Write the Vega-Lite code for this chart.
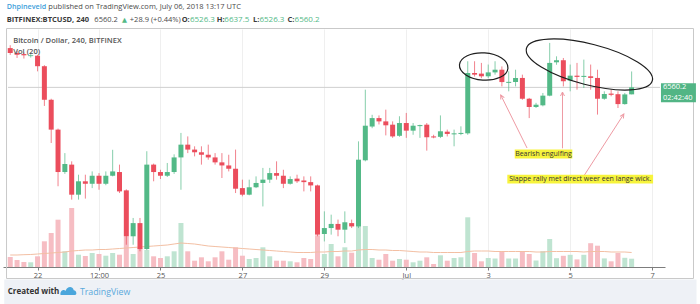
{
"$schema": "https://vega.github.io/schema/vega-lite/v6.json",
"width": 662, "height": 238,
"autosize": {"type": "none"},
"padding": {"left": 3, "top": 29, "right": 35, "bottom": 37},
"background": "#ffffff",
"config": {"view": {"stroke": null}, "font": "Open Sans"},
"datasets": {
"candles": [
{"t":"2018-06-21T08:00:00Z","o":6751,"h":6765,"l":6718,"c":6727,"v":1000,"ma":1200,"d":"down"},
{"t":"2018-06-21T12:00:00Z","o":6727,"h":6738,"l":6703,"c":6719,"v":700,"ma":1200,"d":"down"},
{"t":"2018-06-21T16:00:00Z","o":6722,"h":6730,"l":6700,"c":6716,"v":500,"ma":1230,"d":"down"},
{"t":"2018-06-21T20:00:00Z","o":6712,"h":6722,"l":6705,"c":6716,"v":470,"ma":1250,"d":"up"},
{"t":"2018-06-22T00:00:00Z","o":6714,"h":6718,"l":6638,"c":6663,"v":1070,"ma":1300,"d":"down"},
{"t":"2018-06-22T04:00:00Z","o":6663,"h":6668,"l":6470,"c":6500,"v":2570,"ma":1350,"d":"down"},
{"t":"2018-06-22T08:00:00Z","o":6500,"h":6505,"l":6290,"c":6355,"v":3400,"ma":1400,"d":"down"},
{"t":"2018-06-22T12:00:00Z","o":6355,"h":6360,"l":6080,"c":6149,"v":4730,"ma":1450,"d":"down"},
{"t":"2018-06-22T16:00:00Z","o":6149,"h":6241,"l":6140,"c":6188,"v":1570,"ma":1500,"d":"up"},
{"t":"2018-06-22T20:00:00Z","o":6185,"h":6201,"l":6015,"c":6039,"v":5900,"ma":1600,"d":"down"},
{"t":"2018-06-23T00:00:00Z","o":6039,"h":6136,"l":6015,"c":6104,"v":1230,"ma":1650,"d":"up"},
{"t":"2018-06-23T04:00:00Z","o":6104,"h":6136,"l":6020,"c":6092,"v":1100,"ma":1700,"d":"down"},
{"t":"2018-06-23T08:00:00Z","o":6092,"h":6152,"l":6071,"c":6131,"v":1400,"ma":1700,"d":"up"},
{"t":"2018-06-23T12:00:00Z","o":6131,"h":6144,"l":6063,"c":6092,"v":1300,"ma":1750,"d":"down"},
{"t":"2018-06-23T16:00:00Z","o":6092,"h":6152,"l":6085,"c":6131,"v":1130,"ma":1750,"d":"up"},
{"t":"2018-06-23T20:00:00Z","o":6131,"h":6257,"l":6128,"c":6152,"v":1400,"ma":1800,"d":"up"},
{"t":"2018-06-24T00:00:00Z","o":6149,"h":6185,"l":6047,"c":6055,"v":1230,"ma":1850,"d":"down"},
{"t":"2018-06-24T04:00:00Z","o":6060,"h":6065,"l":5796,"c":5837,"v":3070,"ma":1900,"d":"down"},
{"t":"2018-06-24T08:00:00Z","o":5837,"h":5926,"l":5796,"c":5901,"v":1300,"ma":1950,"d":"up"},
{"t":"2018-06-24T12:00:00Z","o":5901,"h":5926,"l":5764,"c":5775,"v":1900,"ma":2000,"d":"down"},
{"t":"2018-06-24T16:00:00Z","o":5775,"h":6250,"l":5770,"c":6185,"v":1700,"ma":2050,"d":"up"},
{"t":"2018-06-24T20:00:00Z","o":6185,"h":6190,"l":6104,"c":6149,"v":1070,"ma":2100,"d":"down"},
{"t":"2018-06-25T00:00:00Z","o":6149,"h":6160,"l":6115,"c":6131,"v":900,"ma":2150,"d":"down"},
{"t":"2018-06-25T04:00:00Z","o":6131,"h":6193,"l":6125,"c":6149,"v":1070,"ma":2200,"d":"up"},
{"t":"2018-06-25T08:00:00Z","o":6149,"h":6235,"l":6140,"c":6220,"v":1570,"ma":2300,"d":"up"},
{"t":"2018-06-25T12:00:00Z","o":6220,"h":6339,"l":6063,"c":6282,"v":4400,"ma":2400,"d":"up"},
{"t":"2018-06-25T16:00:00Z","o":6282,"h":6322,"l":6241,"c":6258,"v":1570,"ma":2350,"d":"down"},
{"t":"2018-06-25T20:00:00Z","o":6258,"h":6274,"l":6225,"c":6245,"v":630,"ma":2300,"d":"down"},
{"t":"2018-06-26T00:00:00Z","o":6245,"h":6274,"l":6185,"c":6233,"v":970,"ma":2200,"d":"down"},
{"t":"2018-06-26T04:00:00Z","o":6233,"h":6282,"l":6209,"c":6220,"v":570,"ma":2100,"d":"down"},
{"t":"2018-06-26T08:00:00Z","o":6220,"h":6241,"l":6185,"c":6196,"v":970,"ma":2050,"d":"down"},
{"t":"2018-06-26T12:00:00Z","o":6196,"h":6241,"l":6120,"c":6181,"v":1570,"ma":2000,"d":"down"},
{"t":"2018-06-26T16:00:00Z","o":6181,"h":6233,"l":6152,"c":6165,"v":730,"ma":1950,"d":"down"},
{"t":"2018-06-26T20:00:00Z","o":6165,"h":6258,"l":6047,"c":6068,"v":1970,"ma":1900,"d":"down"},
{"t":"2018-06-27T00:00:00Z","o":6071,"h":6112,"l":6031,"c":6039,"v":1130,"ma":1850,"d":"down"},
{"t":"2018-06-27T04:00:00Z","o":6039,"h":6112,"l":6036,"c":6075,"v":800,"ma":1800,"d":"up"},
{"t":"2018-06-27T08:00:00Z","o":6075,"h":6128,"l":6071,"c":6096,"v":900,"ma":1750,"d":"up"},
{"t":"2018-06-27T12:00:00Z","o":6096,"h":6169,"l":5982,"c":6112,"v":1970,"ma":1700,"d":"up"},
{"t":"2018-06-27T16:00:00Z","o":6112,"h":6169,"l":6096,"c":6144,"v":1070,"ma":1650,"d":"up"},
{"t":"2018-06-27T20:00:00Z","o":6144,"h":6201,"l":6112,"c":6131,"v":630,"ma":1600,"d":"down"},
{"t":"2018-06-28T00:00:00Z","o":6131,"h":6160,"l":6071,"c":6092,"v":630,"ma":1550,"d":"down"},
{"t":"2018-06-28T04:00:00Z","o":6092,"h":6128,"l":6088,"c":6115,"v":570,"ma":1500,"d":"up"},
{"t":"2018-06-28T08:00:00Z","o":6117,"h":6136,"l":6096,"c":6104,"v":470,"ma":1450,"d":"down"},
{"t":"2018-06-28T12:00:00Z","o":6108,"h":6128,"l":6055,"c":6100,"v":900,"ma":1450,"d":"down"},
{"t":"2018-06-28T16:00:00Z","o":6100,"h":6128,"l":6055,"c":6084,"v":800,"ma":1450,"d":"down"},
{"t":"2018-06-28T20:00:00Z","o":6084,"h":6088,"l":5837,"c":5845,"v":3170,"ma":1500,"d":"down"},
{"t":"2018-06-29T00:00:00Z","o":5848,"h":5958,"l":5812,"c":5877,"v":1300,"ma":1500,"d":"up"},
{"t":"2018-06-29T04:00:00Z","o":5877,"h":5942,"l":5845,"c":5897,"v":2300,"ma":1550,"d":"up"},
{"t":"2018-06-29T08:00:00Z","o":5897,"h":5918,"l":5837,"c":5869,"v":1070,"ma":1550,"d":"down"},
{"t":"2018-06-29T12:00:00Z","o":5869,"h":5958,"l":5804,"c":5905,"v":1970,"ma":1600,"d":"up"},
{"t":"2018-06-29T16:00:00Z","o":5901,"h":5918,"l":5877,"c":5885,"v":1430,"ma":1600,"d":"down"},
{"t":"2018-06-29T20:00:00Z","o":5885,"h":6298,"l":5877,"c":6209,"v":4100,"ma":1700,"d":"up"},
{"t":"2018-06-30T00:00:00Z","o":6206,"h":6549,"l":6201,"c":6374,"v":4100,"ma":1750,"d":"up"},
{"t":"2018-06-30T04:00:00Z","o":6370,"h":6427,"l":6362,"c":6411,"v":900,"ma":1750,"d":"up"},
{"t":"2018-06-30T08:00:00Z","o":6411,"h":6424,"l":6380,"c":6395,"v":730,"ma":1700,"d":"down"},
{"t":"2018-06-30T12:00:00Z","o":6395,"h":6452,"l":6327,"c":6376,"v":1300,"ma":1700,"d":"down"},
{"t":"2018-06-30T16:00:00Z","o":6379,"h":6395,"l":6315,"c":6322,"v":630,"ma":1650,"d":"down"},
{"t":"2018-06-30T20:00:00Z","o":6325,"h":6420,"l":6320,"c":6387,"v":800,"ma":1650,"d":"up"},
{"t":"2018-07-01T00:00:00Z","o":6387,"h":6436,"l":6315,"c":6350,"v":730,"ma":1600,"d":"down"},
{"t":"2018-07-01T04:00:00Z","o":6350,"h":6387,"l":6330,"c":6374,"v":470,"ma":1550,"d":"up"},
{"t":"2018-07-01T08:00:00Z","o":6372,"h":6379,"l":6315,"c":6377,"v":630,"ma":1500,"d":"up"},
{"t":"2018-07-01T12:00:00Z","o":6379,"h":6387,"l":6253,"c":6318,"v":970,"ma":1500,"d":"down"},
{"t":"2018-07-01T16:00:00Z","o":6322,"h":6330,"l":6313,"c":6317,"v":300,"ma":1450,"d":"down"},
{"t":"2018-07-01T20:00:00Z","o":6320,"h":6424,"l":6314,"c":6347,"v":1170,"ma":1450,"d":"up"},
{"t":"2018-07-02T00:00:00Z","o":6345,"h":6355,"l":6322,"c":6334,"v":630,"ma":1450,"d":"down"},
{"t":"2018-07-02T04:00:00Z","o":6332,"h":6355,"l":6274,"c":6337,"v":900,"ma":1450,"d":"up"},
{"t":"2018-07-02T08:00:00Z","o":6334,"h":6371,"l":6328,"c":6339,"v":970,"ma":1450,"d":"up"},
{"t":"2018-07-02T12:00:00Z","o":6337,"h":6687,"l":6330,"c":6630,"v":4970,"ma":1550,"d":"up"},
{"t":"2018-07-02T16:00:00Z","o":6630,"h":6687,"l":6613,"c":6622,"v":1400,"ma":1600,"d":"down"},
{"t":"2018-07-02T20:00:00Z","o":6627,"h":6679,"l":6605,"c":6614,"v":570,"ma":1600,"d":"down"},
{"t":"2018-07-03T00:00:00Z","o":6614,"h":6671,"l":6605,"c":6633,"v":900,"ma":1600,"d":"up"},
{"t":"2018-07-03T04:00:00Z","o":6633,"h":6687,"l":6622,"c":6646,"v":850,"ma":1550,"d":"up"},
{"t":"2018-07-03T08:00:00Z","o":6646,"h":6662,"l":6565,"c":6586,"v":1550,"ma":1550,"d":"down"},
{"t":"2018-07-03T12:00:00Z","o":6582,"h":6638,"l":6541,"c":6587,"v":850,"ma":1550,"d":"up"},
{"t":"2018-07-03T16:00:00Z","o":6586,"h":6646,"l":6565,"c":6606,"v":850,"ma":1550,"d":"up"},
{"t":"2018-07-03T20:00:00Z","o":6606,"h":6622,"l":6500,"c":6505,"v":1600,"ma":1550,"d":"down"},
{"t":"2018-07-04T00:00:00Z","o":6505,"h":6509,"l":6411,"c":6465,"v":1300,"ma":1550,"d":"down"},
{"t":"2018-07-04T04:00:00Z","o":6465,"h":6485,"l":6460,"c":6476,"v":650,"ma":1500,"d":"up"},
{"t":"2018-07-04T08:00:00Z","o":6473,"h":6533,"l":6468,"c":6520,"v":1580,"ma":1500,"d":"up"},
{"t":"2018-07-04T12:00:00Z","o":6520,"h":6776,"l":6517,"c":6679,"v":2800,"ma":1550,"d":"up"},
{"t":"2018-07-04T16:00:00Z","o":6682,"h":6711,"l":6670,"c":6692,"v":880,"ma":1550,"d":"up"},
{"t":"2018-07-04T20:00:00Z","o":6692,"h":6703,"l":6565,"c":6590,"v":1120,"ma":1550,"d":"down"},
{"t":"2018-07-05T00:00:00Z","o":6593,"h":6671,"l":6541,"c":6617,"v":1220,"ma":1550,"d":"up"},
{"t":"2018-07-05T04:00:00Z","o":6617,"h":6679,"l":6549,"c":6611,"v":760,"ma":1550,"d":"down"},
{"t":"2018-07-05T08:00:00Z","o":6611,"h":6695,"l":6557,"c":6616,"v":1220,"ma":1500,"d":"up"},
{"t":"2018-07-05T12:00:00Z","o":6614,"h":6671,"l":6549,"c":6606,"v":2380,"ma":1550,"d":"down"},
{"t":"2018-07-05T16:00:00Z","o":6606,"h":6646,"l":6428,"c":6505,"v":2130,"ma":1550,"d":"down"},
{"t":"2018-07-05T20:00:00Z","o":6505,"h":6541,"l":6500,"c":6528,"v":860,"ma":1550,"d":"up"},
{"t":"2018-07-06T00:00:00Z","o":6530,"h":6549,"l":6517,"c":6524,"v":570,"ma":1500,"d":"down"},
{"t":"2018-07-06T04:00:00Z","o":6527,"h":6541,"l":6460,"c":6479,"v":1400,"ma":1500,"d":"down"},
{"t":"2018-07-06T08:00:00Z","o":6479,"h":6533,"l":6476,"c":6526,"v":920,"ma":1500,"d":"up"},
{"t":"2018-07-06T12:00:00Z","o":6526.3,"h":6637.5,"l":6526.3,"c":6560.2,"v":830,"ma":1450,"d":"up"}
],
"band": [{"t":"2018-06-21T04:30:00Z","t2":"2018-07-08T02:00:00Z","p":5627,"p2":5490}],
"border": [{"t":"2018-06-21T05:50:00Z","t2":"2018-07-08T00:14:00Z","p":6846.1,"p2":5631.9}],
"pline": [{"t":"2018-06-21T06:41:30Z","t2":"2018-07-07T04:37:00Z","p":6560.2}],
"ellipses": [{"id":1,"t":"2018-07-02T21:21:00Z","p":6661.6},{"id":2,"t":"2018-07-05T11:15:00Z","p":6671.3}],
"arrows": [
{"id":1,"t":"2018-07-03T22:44:00Z","p":6265.7,"t2":"2018-07-03T07:19:00Z","p2":6523.1},
{"id":2,"t":"2018-07-04T19:30:00Z","p":6264.3,"t2":"2018-07-04T19:30:00Z","p2":6537.7},
{"id":3,"t":"2018-07-05T08:22:00Z","p":6134.6,"t2":"2018-07-06T07:26:00Z","p2":6430.9}],
"heads": [
{"id":1,"t":"2018-07-03T07:19:00Z","p":6523.1},
{"id":2,"t":"2018-07-04T19:30:00Z","p":6537.7},
{"id":3,"t":"2018-07-06T07:26:00Z","p":6430.9}],
"boxes": [
{"t":"2018-07-03T15:31:00Z","t2":"2018-07-05T01:16:00Z","p":6258.4,"p2":6214.7},
{"t":"2018-07-03T11:11:00Z","t2":"2018-07-07T00:34:00Z","p":6135.6,"p2":6093.3}],
"notes": [
{"t":"2018-07-04T08:22:00Z","p":6236.6,"txt":"Bearish engulfing"},
{"t":"2018-07-05T05:53:00Z","p":6114.2,"txt":"Slappe rally met direct weer een lange wick."}],
"tag": [{"t":"2018-07-07T05:11:00Z","t2":"2018-07-08T01:40:00Z","p":6580,"p2":6487.7}],
"tagtext": [{"t":"2018-07-07T06:20:00Z","p":6560.2,"txt":"6560.2"},{"t":"2018-07-07T06:20:00Z","p":6509.5,"txt":"02:42:40"}],
"logo": [{"t":"2018-06-22T18:10:00Z","p":5571}],
"hdr": [
{"k":"user","t":"2018-06-21T05:56:00Z","p":6952,"txt":"Dhpineveld"},
{"k":"plain","t":"2018-06-22T06:20:00Z","p":6952,"txt":"published on TradingView.com, July 06, 2018 13:17 UTC"},
{"k":"bold","t":"2018-06-21T05:56:00Z","p":6887.4,"txt":"BITFINEX:BTCUSD, 240"},
{"k":"plain","t":"2018-06-23T09:17:00Z","p":6887.4,"txt":"6560.2"},
{"k":"arrow","t":"2018-06-24T01:26:00Z","p":6887.4,"txt":"▲"},
{"k":"plain","t":"2018-06-24T06:03:00Z","p":6887.4,"txt":"+28.9 (+0.44%)"},
{"k":"bold","t":"2018-06-25T12:24:00Z","p":6887.4,"txt":"O:"},
{"k":"up","t":"2018-06-25T17:15:00Z","p":6887.4,"txt":"6526.3"},
{"k":"bold","t":"2018-06-26T09:00:00Z","p":6887.4,"txt":"H:"},
{"k":"up","t":"2018-06-26T13:26:00Z","p":6887.4,"txt":"6637.5"},
{"k":"bold","t":"2018-06-27T06:10:00Z","p":6887.4,"txt":"L:"},
{"k":"up","t":"2018-06-27T09:59:00Z","p":6887.4,"txt":"6526.3"},
{"k":"bold","t":"2018-06-28T02:22:00Z","p":6887.4,"txt":"C:"},
{"k":"up","t":"2018-06-28T06:34:00Z","p":6887.4,"txt":"6560.2"},
{"k":"legend","t":"2018-06-21T09:45:00Z","p":6786.9,"txt":"Bitcoin / Dollar, 240, BITFINEX"},
{"k":"legend","t":"2018-06-21T09:45:00Z","p":6732,"txt":"Vol (20)"},
{"k":"foot","t":"2018-06-21T06:31:00Z","p":5567.7,"txt":"Created with"},
{"k":"brand","t":"2018-06-23T00:48:00Z","p":5567.7,"txt":"TradingView"}]
},
"encoding": {"x": {"field": "t", "type": "temporal", "title": null,
  "scale": {"type": "utc", "nice": false, "domain": [{"year":2018,"month":6,"date":21,"hours":6,"minutes":41,"seconds":30,"utc":true},{"year":2018,"month":7,"date":7,"hours":4,"minutes":37,"utc":true}]},
  "axis": {"values": [{"year":2018,"month":6,"date":22,"utc":true},{"year":2018,"month":6,"date":23,"hours":12,"utc":true},{"year":2018,"month":6,"date":25,"utc":true},{"year":2018,"month":6,"date":27,"utc":true},{"year":2018,"month":6,"date":29,"utc":true},{"year":2018,"month":7,"date":1,"utc":true},{"year":2018,"month":7,"date":3,"utc":true},{"year":2018,"month":7,"date":5,"utc":true},{"year":2018,"month":7,"date":7,"utc":true}],
    "labelExpr": "utchours(datum.value) == 12 ? '12:00' : (utcdate(datum.value) == 1 ? 'Jul' : '' + utcdate(datum.value))",
    "grid": true, "gridColor": "#efefef", "domainColor": "#7d7d7d", "tickColor": "#7d7d7d", "tickSize": 3,
    "labelFontSize": 7.5, "labelColor": "#555555", "labelPadding": 1, "labelFont": "Open Sans", "labelFlush": false, "labelOverlap": false}}},
"layer": [
{"data": {"name": "candles"}, "layer": [
  {"mark": {"type": "bar", "size": 5},
   "encoding": {"y": {"field": "v", "type": "quantitative", "title": null, "stack": null, "scale": {"domain": [0, 23800], "nice": false, "zero": true}, "axis": null},
     "color": {"field": "d", "type": "nominal", "scale": {"domain": ["up", "down"], "range": ["#bfe4d1", "#f6bdc3"]}, "legend": null}}},
  {"mark": {"type": "line", "color": "#f3bfa3", "strokeWidth": 1},
   "encoding": {"y": {"field": "ma", "type": "quantitative", "title": null, "scale": {"domain": [0, 23800], "nice": false, "zero": true}, "axis": null}}}
]},
{"layer": [
  {"data": {"name": "band"}, "mark": {"type": "rect", "color": "#eef1f6"},
   "encoding": {"x2": {"field": "t2"}, "y": {"field": "p", "type": "quantitative", "title": null, "scale": {"domain": [5687.8, 6843.7], "nice": false, "zero": false}, "axis": null}, "y2": {"field": "p2"}}},
  {"data": {"name": "border"}, "mark": {"type": "rect", "filled": false, "color": "#c9c9c9", "strokeWidth": 1},
   "encoding": {"x2": {"field": "t2"}, "y": {"field": "p", "type": "quantitative", "title": null, "scale": {"domain": [5687.8, 6843.7], "nice": false, "zero": false}, "axis": null}, "y2": {"field": "p2"}}},
  {"data": {"name": "pline"}, "mark": {"type": "rule", "color": "#cfcfcf", "strokeWidth": 1},
   "encoding": {"x2": {"field": "t2"}, "y": {"field": "p", "type": "quantitative", "title": null, "scale": {"domain": [5687.8, 6843.7], "nice": false, "zero": false}, "axis": null}}},
  {"data": {"name": "candles"}, "mark": {"type": "rule", "strokeWidth": 1, "opacity": 0.7},
   "encoding": {"y": {"field": "l", "type": "quantitative", "title": null, "scale": {"domain": [5687.8, 6843.7], "nice": false, "zero": false},
       "axis": {"orient": "right", "values": [5700,5800,5900,6000,6100,6200,6300,6400,6500,6600,6700,6800], "format": ".1f", "grid": true, "gridColor": "#f1f1f1", "domainColor": "#8c8c8c", "tickColor": "#8c8c8c", "tickSize": 3, "labelFontSize": 7.3, "labelColor": "#555555", "labelPadding": 2, "labelFont": "Open Sans"}},
     "y2": {"field": "h"},
     "color": {"field": "d", "type": "nominal", "scale": {"domain": ["up", "down"], "range": ["#53b987", "#eb4d5c"]}, "legend": null}}},
  {"data": {"name": "candles"}, "mark": {"type": "bar", "size": 5},
   "encoding": {"y": {"field": "o", "type": "quantitative", "title": null, "scale": {"domain": [5687.8, 6843.7], "nice": false, "zero": false}, "axis": null},
     "y2": {"field": "c"},
     "color": {"field": "d", "type": "nominal", "scale": {"domain": ["up", "down"], "range": ["#53b987", "#eb4d5c"]}, "legend": null}}},
  {"data": {"name": "ellipses"}, "transform": [{"filter": "datum.id == 1"}],
   "mark": {"type": "point", "shape": "M 1 0 C 1 0.3093 0.5523 0.56 0 0.56 C -0.5523 0.56 -1 0.3093 -1 0 C -1 -0.3093 -0.5523 -0.56 0 -0.56 C 0.5523 -0.56 1 -0.3093 1 0 Z", "size": 2362, "angle": 4, "filled": false, "color": "#1e1e1e", "strokeWidth": 1.2, "opacity": 1},
   "encoding": {"y": {"field": "p", "type": "quantitative", "title": null, "scale": {"domain": [5687.8, 6843.7], "nice": false, "zero": false}, "axis": null}}},
  {"data": {"name": "ellipses"}, "transform": [{"filter": "datum.id == 2"}],
   "mark": {"type": "point", "shape": "M 1 0 C 1 0.1734 0.5523 0.314 0 0.314 C -0.5523 0.314 -1 0.1734 -1 0 C -1 -0.1734 -0.5523 -0.314 0 -0.314 C 0.5523 -0.314 1 -0.1734 1 0 Z", "size": 16900, "angle": 14.4, "filled": false, "color": "#1e1e1e", "strokeWidth": 1.2, "opacity": 1},
   "encoding": {"y": {"field": "p", "type": "quantitative", "title": null, "scale": {"domain": [5687.8, 6843.7], "nice": false, "zero": false}, "axis": null}}},
  {"data": {"name": "arrows"}, "mark": {"type": "rule", "color": "#ee9aa3", "strokeWidth": 1},
   "encoding": {"x2": {"field": "t2"}, "y": {"field": "p", "type": "quantitative", "title": null, "scale": {"domain": [5687.8, 6843.7], "nice": false, "zero": false}, "axis": null}, "y2": {"field": "p2"}}},
  {"data": {"name": "heads"}, "transform": [{"filter": "datum.id == 1"}],
   "mark": {"type": "point", "shape": "M -1 2 L 0 0 L 1 2", "size": 16, "angle": -27, "filled": false, "color": "#ee9aa3", "strokeWidth": 1, "opacity": 1},
   "encoding": {"y": {"field": "p", "type": "quantitative", "title": null, "scale": {"domain": [5687.8, 6843.7], "nice": false, "zero": false}, "axis": null}}},
  {"data": {"name": "heads"}, "transform": [{"filter": "datum.id == 2"}],
   "mark": {"type": "point", "shape": "M -1 2 L 0 0 L 1 2", "size": 16, "angle": 0, "filled": false, "color": "#ee9aa3", "strokeWidth": 1, "opacity": 1},
   "encoding": {"y": {"field": "p", "type": "quantitative", "title": null, "scale": {"domain": [5687.8, 6843.7], "nice": false, "zero": false}, "axis": null}}},
  {"data": {"name": "heads"}, "transform": [{"filter": "datum.id == 3"}],
   "mark": {"type": "point", "shape": "M -1 2 L 0 0 L 1 2", "size": 16, "angle": 32, "filled": false, "color": "#ee9aa3", "strokeWidth": 1, "opacity": 1},
   "encoding": {"y": {"field": "p", "type": "quantitative", "title": null, "scale": {"domain": [5687.8, 6843.7], "nice": false, "zero": false}, "axis": null}}},
  {"data": {"name": "boxes"}, "mark": {"type": "rect", "color": "#f7f43c"},
   "encoding": {"x2": {"field": "t2"}, "y": {"field": "p", "type": "quantitative", "title": null, "scale": {"domain": [5687.8, 6843.7], "nice": false, "zero": false}, "axis": null}, "y2": {"field": "p2"}}},
  {"data": {"name": "notes"}, "mark": {"type": "text", "align": "center", "baseline": "middle", "fontSize": 7, "color": "#333333", "font": "Open Sans"},
   "encoding": {"y": {"field": "p", "type": "quantitative", "title": null, "scale": {"domain": [5687.8, 6843.7], "nice": false, "zero": false}, "axis": null}, "text": {"field": "txt"}}},
  {"data": {"name": "tag"}, "mark": {"type": "rect", "color": "#52b585"},
   "encoding": {"x2": {"field": "t2"}, "y": {"field": "p", "type": "quantitative", "title": null, "scale": {"domain": [5687.8, 6843.7], "nice": false, "zero": false}, "axis": null}, "y2": {"field": "p2"}}},
  {"data": {"name": "tagtext"}, "mark": {"type": "text", "align": "left", "baseline": "middle", "fontSize": 7.5, "color": "#ffffff", "font": "Open Sans"},
   "encoding": {"y": {"field": "p", "type": "quantitative", "title": null, "scale": {"domain": [5687.8, 6843.7], "nice": false, "zero": false}, "axis": null}, "text": {"field": "txt"}}},
  {"data": {"name": "logo"}, "mark": {"type": "point", "shape": "M -1 0.5 C -1.1 0 -0.7 -0.3 -0.35 -0.05 C -0.2 -0.6 0.5 -0.7 0.65 -0.1 C 1 -0.1 1.1 0.5 0.8 0.5 Z", "size": 256, "filled": true, "color": "#4aa6dc", "opacity": 1},
   "encoding": {"y": {"field": "p", "type": "quantitative", "title": null, "scale": {"domain": [5687.8, 6843.7], "nice": false, "zero": false}, "axis": null}}},
  {"data": {"name": "hdr"}, "transform": [{"filter": "datum.k == 'user'"}], "mark": {"type": "text", "align": "left", "baseline": "middle", "fontSize": 7.2, "fontWeight": 600, "color": "#3f9fdb", "font": "Open Sans"},
   "encoding": {"y": {"field": "p", "type": "quantitative", "title": null, "scale": {"domain": [5687.8, 6843.7], "nice": false, "zero": false}, "axis": null}, "text": {"field": "txt"}}},
  {"data": {"name": "hdr"}, "transform": [{"filter": "datum.k == 'plain'"}], "mark": {"type": "text", "align": "left", "baseline": "middle", "fontSize": 7.5, "color": "#4a4a4a", "font": "Open Sans"},
   "encoding": {"y": {"field": "p", "type": "quantitative", "title": null, "scale": {"domain": [5687.8, 6843.7], "nice": false, "zero": false}, "axis": null}, "text": {"field": "txt"}}},
  {"data": {"name": "hdr"}, "transform": [{"filter": "datum.k == 'bold'"}], "mark": {"type": "text", "align": "left", "baseline": "middle", "fontSize": 7.5, "fontWeight": "bold", "color": "#3a3a3a", "font": "Open Sans"},
   "encoding": {"y": {"field": "p", "type": "quantitative", "title": null, "scale": {"domain": [5687.8, 6843.7], "nice": false, "zero": false}, "axis": null}, "text": {"field": "txt"}}},
  {"data": {"name": "hdr"}, "transform": [{"filter": "datum.k == 'arrow'"}], "mark": {"type": "text", "align": "left", "baseline": "middle", "fontSize": 6.5, "color": "#53b987", "font": "DejaVu Sans"},
   "encoding": {"y": {"field": "p", "type": "quantitative", "title": null, "scale": {"domain": [5687.8, 6843.7], "nice": false, "zero": false}, "axis": null}, "text": {"field": "txt"}}},
  {"data": {"name": "hdr"}, "transform": [{"filter": "datum.k == 'up'"}], "mark": {"type": "text", "align": "left", "baseline": "middle", "fontSize": 8, "color": "#53b987", "font": "Open Sans"},
   "encoding": {"y": {"field": "p", "type": "quantitative", "title": null, "scale": {"domain": [5687.8, 6843.7], "nice": false, "zero": false}, "axis": null}, "text": {"field": "txt"}}},
  {"data": {"name": "hdr"}, "transform": [{"filter": "datum.k == 'legend'"}], "mark": {"type": "text", "align": "left", "baseline": "middle", "fontSize": 7.6, "fontWeight": 600, "color": "#555555", "font": "Open Sans"},
   "encoding": {"y": {"field": "p", "type": "quantitative", "title": null, "scale": {"domain": [5687.8, 6843.7], "nice": false, "zero": false}, "axis": null}, "text": {"field": "txt"}}},
  {"data": {"name": "hdr"}, "transform": [{"filter": "datum.k == 'foot'"}], "mark": {"type": "text", "align": "left", "baseline": "middle", "fontSize": 8, "fontWeight": "bold", "color": "#333333", "font": "Open Sans"},
   "encoding": {"y": {"field": "p", "type": "quantitative", "title": null, "scale": {"domain": [5687.8, 6843.7], "nice": false, "zero": false}, "axis": null}, "text": {"field": "txt"}}},
  {"data": {"name": "hdr"}, "transform": [{"filter": "datum.k == 'brand'"}], "mark": {"type": "text", "align": "left", "baseline": "middle", "fontSize": 8.8, "color": "#5aa9dc", "font": "Open Sans"},
   "encoding": {"y": {"field": "p", "type": "quantitative", "title": null, "scale": {"domain": [5687.8, 6843.7], "nice": false, "zero": false}, "axis": null}, "text": {"field": "txt"}}}
]}
],
"resolve": {"scale": {"y": "independent", "color": "independent"}}
}
